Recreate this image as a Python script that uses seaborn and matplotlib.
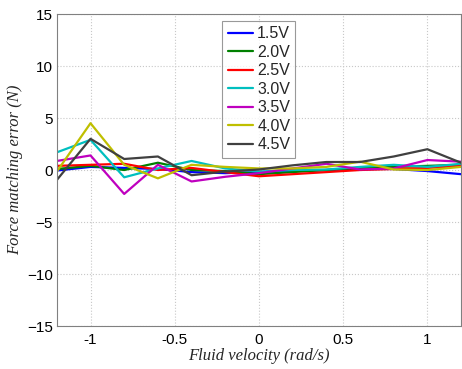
import numpy as np
import pandas as pd
import matplotlib
matplotlib.use("Agg")
import matplotlib.pyplot as plt
import seaborn as sns

velocity = [-1.2, -1.0, -0.8, -0.6, -0.4, -0.2, 0.0, 0.2, 0.4, 0.6, 0.8, 1.0, 1.2]
v15 = [-0.05, 0.3, 0.2, 0.1, -0.2, -0.3, -0.2, -0.1, 0.0, 0.1, 0.1, -0.1, -0.4]
v20 = [0.1, 0.4, 0.0, 0.7, 0.0, -0.1, -0.4, -0.2, 0.0, 0.2, 0.3, 0.4, 0.5]
v25 = [0.4, 0.5, 0.6, 0.0, 0.2, -0.2, -0.6, -0.4, -0.2, 0.0, 0.1, 0.2, 0.4]
v30 = [1.7, 2.9, -0.7, 0.15, 0.87, 0.15, -0.15, 0.0, 0.05, 0.3, 0.5, 0.3, 0.6]
v35 = [0.87, 1.4, -2.3, 0.5, -1.1, -0.65, -0.3, 0.15, 0.6, 0.05, 0.15, 0.96, 0.8]
v40 = [-0.15, 4.5, 0.5, -0.8, 0.5, 0.3, 0.15, 0.15, 0.3, 0.8, 0.05, 0.0, 0.3]
v45 = [-0.96, 3.0, 1.06, 1.3, -0.5, -0.15, 0.05, 0.45, 0.77, 0.77, 1.3, 2.0, 0.7]

labels = ["1.5V", "2.0V", "2.5V", "3.0V", "3.5V", "4.0V", "4.5V"]
series = [v15, v20, v25, v30, v35, v40, v45]
colors = ["#0000ff", "#008000", "#ff0000", "#00bfbf", "#bf00bf", "#bfbf00", "#404040"]

xticks = [-1, -0.5, 0, 0.5, 1]
xticklabels = ["-1", "-0.5", "0", "0.5", "1"]
yticks = [-15, -10, -5, 0, 5, 10, 15]

rows = []
for lab, vals in zip(labels, series):
    for x, y in zip(velocity, vals):
        rows.append({"velocity": x, "error": y, "voltage": lab})
df = pd.DataFrame(rows)

sns.set_style("white")
plt.rcParams['font.family'] = ['Liberation Sans', 'DejaVu Sans']

fig = plt.figure(figsize=(4.62, 3.69), dpi=100)
ax = fig.add_axes([0.123, 0.1165, 0.875, 0.8455])

sns.lineplot(data=df, x="velocity", y="error", hue="voltage", hue_order=labels,
             palette=colors, linewidth=1.6, ax=ax, estimator=None, sort=False)

ax.set_xlim(-1.2, 1.2)
ax.set_ylim(-15, 15)
ax.set_xticks(xticks)
ax.set_xticklabels(xticklabels)
ax.set_yticks(yticks)
ax.tick_params(labelsize=11, length=0, colors="black")
ax.tick_params(axis="y", pad=3)
ax.tick_params(axis="x", pad=5)
ax.grid(True, linestyle=":", color="#c8c8c8", linewidth=0.8)
for s in ax.spines.values():
    s.set_color("#808080")
    s.set_linewidth(0.8)

ax.set_xlabel("Fluid velocity (rad/s)", family="Liberation Serif", style="italic", fontsize=12, labelpad=1)
ax.set_ylabel("Force matching error (N)", family="Liberation Serif", style="italic", fontsize=12, labelpad=3)

leg = ax.legend(loc="upper center", bbox_to_anchor=(0.5, 0.978), fontsize=11.5, frameon=True,
                fancybox=False, edgecolor="#808080", handlelength=1.6, handletextpad=0.25,
                labelspacing=0.22, borderpad=0.33, borderaxespad=0, title=None)
leg.get_frame().set_linewidth(0.8)

fig.savefig("out.png", dpi=100)
